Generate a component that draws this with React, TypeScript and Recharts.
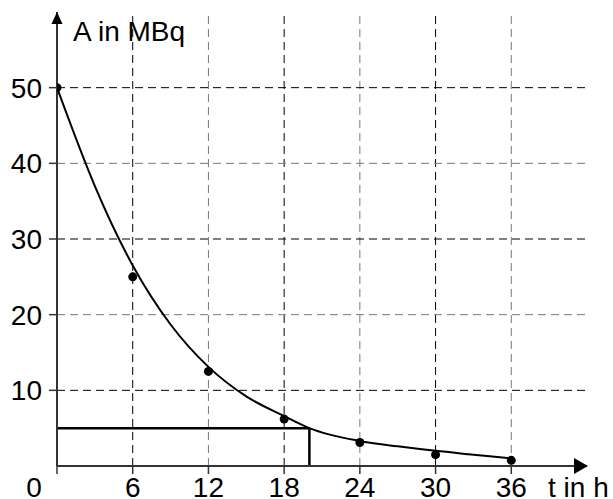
import React from 'react';
import {
  ComposedChart, Line, Scatter, XAxis, YAxis, ReferenceLine, ReferenceDot,
} from 'recharts';

// Measured activity values (points)
const measuredT = [0, 6, 12, 18, 24, 30, 36];
const measuredA = [50, 25, 12.5, 6.2, 3.1, 1.5, 0.75];

// Drawn fit curve
const curveT = [0, 3, 6, 9, 12, 15, 18, 20, 24, 27, 30, 33, 36];
const curveA = [50, 37, 26.5, 18.7, 13.1, 9.2, 6.6, 5.0, 3.3, 2.6, 2.0, 1.5, 1.0];

const xTicks = [0, 6, 12, 18, 24, 30, 36];
const yTicks = [10, 20, 30, 40, 50];
const xGrid = [6, 12, 18, 24, 30, 36];
const yGrid = [10, 20, 30, 40, 50];

const halfLevel = 5;
const halfTime = 20;

const xMax = 42;
const yMax = 60;

const FONT = '"Liberation Sans", Arial, sans-serif';
const FS = 28;

const points = measuredT.map((t, i) => ({ t, A: measuredA[i] }));
const curve = curveT.map((t, i) => ({ t, A: curveA[i] }));

const gridColor = (i: number) => (i % 2 === 0 ? '#000' : '#777');

const XTick = (props: any) => {
  const { x, y, payload } = props;
  const lx = payload.value === 0 ? x - 23 : x;
  return (
    <text x={lx} y={y + 21} textAnchor="middle" fontSize={FS} fontFamily={FONT} fill="#000">
      {payload.value}
    </text>
  );
};

const Dot = (props: any) => {
  const { cx, cy } = props;
  return <circle cx={cx} cy={cy} r={4.5} fill="#000" />;
};

const XArrow = (props: any) => {
  const { cx, cy } = props;
  return <polygon points={`${cx + 1},${cy} ${cx - 13},${cy - 8} ${cx - 13},${cy + 8}`} fill="#000" />;
};

const YArrow = (props: any) => {
  const { cx, cy } = props;
  return <polygon points={`${cx},${cy} ${cx - 5.5},${cy + 12} ${cx + 5.5},${cy + 12}`} fill="#000" />;
};

export default function App() {
  return (
    <div style={{ position: 'absolute', left: 0, top: 0, background: '#fff' }}>
      <ComposedChart
        width={613}
        height={499}
        margin={{ top: 12, right: 26, left: 0, bottom: 0 }}
      >
        <XAxis
          type="number"
          dataKey="t"
          domain={[0, xMax]}
          ticks={xTicks}
          allowDataOverflow
          height={33}
          axisLine={{ stroke: '#333', strokeWidth: 2 }}
          tickLine={{ stroke: '#333', strokeWidth: 1.5 }}
          tickSize={8}
          tickMargin={2}
          tick={<XTick />}
          interval={0}
          label={{
            content: (p: any) => {
              const vb = p.viewBox;
              return (
                <text x={vb.x + vb.width - 39} y={vb.y + 31} fontSize={FS} fontFamily={FONT} fill="#000">
                  t in h
                </text>
              );
            },
          }}
        />
        <YAxis
          type="number"
          dataKey="A"
          domain={[0, yMax]}
          ticks={yTicks}
          allowDataOverflow
          width={57}
          axisLine={{ stroke: '#333', strokeWidth: 2 }}
          tickLine={{ stroke: '#333', strokeWidth: 1.5 }}
          tickSize={8}
          tickMargin={7}
          tick={{ fontSize: FS, fontFamily: FONT, fill: '#000' }}
          interval={0}
          label={{
            content: (p: any) => {
              const vb = p.viewBox;
              return (
                <text x={vb.x + vb.width + 16} y={vb.y + 29} fontSize={FS} fontFamily={FONT} fill="#000">
                  A in MBq
                </text>
              );
            },
          }}
        />
        {xGrid.map((v, i) => (
          <ReferenceLine key={'gx' + v} x={v} stroke={gridColor(i)} strokeWidth={1} strokeDasharray="8 5" />
        ))}
        {yGrid.map((v, i) => (
          <ReferenceLine key={'gy' + v} y={v} stroke={gridColor(yGrid.length - 1 - i)} strokeWidth={1} strokeDasharray="8 5" />
        ))}
        <ReferenceLine
          segment={[{ x: 0, y: halfLevel }, { x: halfTime, y: halfLevel }]}
          stroke="#000"
          strokeWidth={2.5}
        />
        <ReferenceLine
          segment={[{ x: halfTime, y: 0 }, { x: halfTime, y: halfLevel }]}
          stroke="#000"
          strokeWidth={2.5}
        />
        <Line
          data={curve}
          dataKey="A"
          type="monotone"
          stroke="#000"
          strokeWidth={2}
          dot={false}
          activeDot={false}
          isAnimationActive={false}
        />
        <Scatter data={points} dataKey="A" shape={<Dot />} isAnimationActive={false} />
        <ReferenceDot x={xMax} y={0} ifOverflow="visible" shape={<XArrow />} />
        <ReferenceDot x={0} y={yMax} ifOverflow="visible" shape={<YArrow />} />
      </ComposedChart>
    </div>
  );
}
